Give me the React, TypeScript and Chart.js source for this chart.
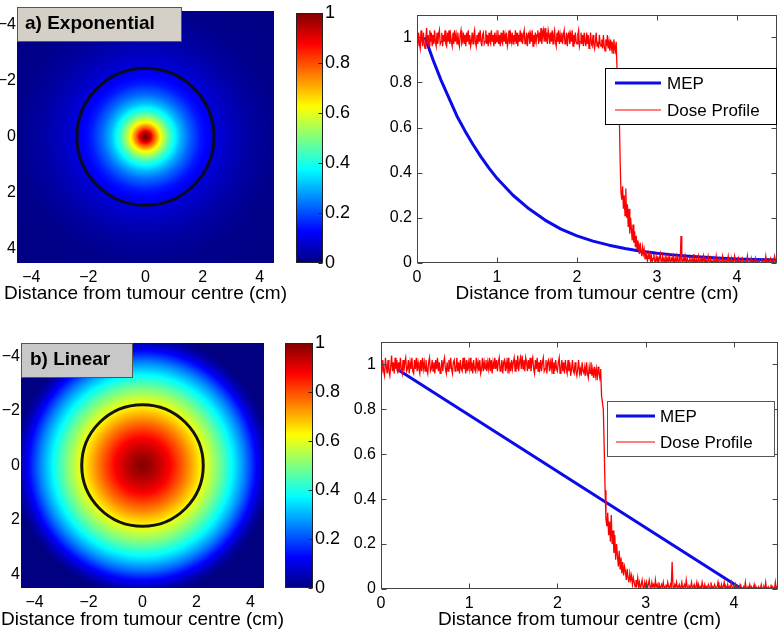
import React, { useEffect, useRef } from 'react';
import { Chart, registerables } from 'chart.js';

Chart.register(...registerables);

const FONT = '"Liberation Sans", Arial, Helvetica, sans-serif';
Chart.defaults.font.family = FONT;
Chart.defaults.color = '#000';

// ---------------- data ----------------
const xTitle = 'Distance from tumour centre (cm)';
const panelLabels = ['a) Exponential', 'b) Linear'];
const seriesLabels = ['MEP', 'Dose Profile'];

const mapTicks = [-4, -2, 0, 2, 4];
const profileXTicks = [0, 1, 2, 3, 4];
const profileYTicks = [0, 0.2, 0.4, 0.6, 0.8, 1];
const colorbarTicks = [0, 0.2, 0.4, 0.6, 0.8, 1];

// target circle radius (cm) drawn on each map
const circleRadius = [2.4, 2.25];

// radial profile of the exponential map (radius cm -> value)
const expMapRadius = [0, 0.1, 0.2, 0.3, 0.4, 0.5, 0.7, 0.9, 1.2, 1.5, 1.9, 2.4, 3.0, 3.6, 4.5, 6.5];
const expMapValues = [1, 0.98, 0.9, 0.8, 0.72, 0.64, 0.52, 0.42, 0.31, 0.23, 0.15, 0.095, 0.06, 0.035, 0.012, 0];

// radial profile of the linear map
const linMapRadius = [0, 0.5, 1.0, 1.6, 2.2, 2.8, 3.3, 3.8, 4.2, 4.5, 4.8, 6.5];
const linMapValues = [1.0, 0.95, 0.88, 0.76, 0.63, 0.5, 0.38, 0.25, 0.13, 0.05, 0, 0];

// MEP curves
const expMepDistance = [0.1, 0.2, 0.3, 0.4, 0.5, 0.6, 0.7, 0.8, 0.9, 1.0, 1.2, 1.4, 1.6, 1.8, 2.0, 2.2, 2.4, 2.6, 2.8, 3.0, 3.2, 3.4, 3.6, 3.8, 4.0, 4.2, 4.4, 4.5];
const expMepValues = [1.0, 0.9, 0.81, 0.73, 0.65, 0.585, 0.525, 0.47, 0.42, 0.375, 0.3, 0.24, 0.19, 0.15, 0.12, 0.097, 0.079, 0.064, 0.052, 0.043, 0.036, 0.03, 0.025, 0.021, 0.018, 0.016, 0.014, 0.013];

const linMepDistance = [0.18, 4.09, 4.5];
const linMepValues = [0.98, 0, 0];

// dose profile, sampled every 0.01 cm from 0 to 4.5 cm
const doseStart = 0;
const doseStep = 0.01;
const doseValues = [
  // 0.00 - 2.49 plateau
  1.00, 0.96, 1.02, 0.97, 0.95, 1.03, 0.99, 0.96, 1.02, 0.97,
  0.95, 0.99, 1.04, 0.97, 1.01, 0.96, 1.03, 0.98, 1.02, 0.96,
  1.01, 0.97, 1.03, 0.98, 0.96, 1.02, 0.97, 1.01, 1.03, 0.97,
  0.98, 1.02, 0.96, 1.01, 0.98, 1.03, 0.97, 0.96, 1.02, 0.98,
  1.03, 0.97, 1.01, 0.98, 0.96, 1.02, 0.97, 1.03, 0.98, 1.01,
  0.97, 1.02, 0.98, 0.96, 1.01, 1.03, 0.97, 0.98, 1.02, 0.97,
  1.01, 0.96, 1.02, 0.98, 1.03, 0.97, 1.01, 0.96, 0.98, 1.02,
  0.97, 1.01, 1.03, 0.98, 0.96, 1.01, 0.97, 1.02, 0.98, 1.03,
  0.98, 0.96, 1.01, 1.02, 0.97, 0.98, 1.03, 0.97, 1.01, 0.96,
  1.02, 0.98, 0.97, 1.03, 0.98, 1.01, 0.96, 1.02, 0.97, 1.01,
  0.98, 1.03, 0.97, 1.01, 0.96, 1.02, 0.98, 0.97, 1.03, 0.98,
  1.01, 0.97, 1.02, 0.96, 0.98, 1.03, 0.97, 1.01, 0.98, 1.02,
  0.97, 1.01, 0.98, 1.03, 0.97, 1.02, 0.96, 1.01, 0.98, 1.03,
  0.98, 1.02, 0.97, 1.01, 1.03, 0.97, 0.98, 1.02, 0.96, 1.01,
  1.02, 0.97, 1.01, 0.98, 1.03, 0.96, 1.01, 0.97, 1.02, 0.98,
  1.01, 1.03, 0.97, 1.02, 0.98, 1.04, 0.97, 1.01, 1.03, 0.98,
  1.04, 0.98, 1.02, 0.97, 1.03, 1.01, 0.97, 1.02, 0.98, 1.03,
  0.97, 1.01, 1.03, 0.98, 0.96, 1.02, 0.98, 1.03, 0.97, 1.01,
  0.98, 1.02, 0.97, 1.01, 1.03, 0.97, 0.98, 1.02, 0.96, 1.01,
  1.02, 0.97, 1.01, 0.98, 1.03, 0.96, 1.01, 0.97, 1.02, 0.98,
  0.97, 1.01, 1.03, 0.96, 0.98, 1.02, 0.97, 1.01, 0.96, 1.02,
  0.98, 0.96, 1.02, 0.97, 1.01, 0.95, 0.98, 1.02, 0.97, 0.96,
  1.01, 0.97, 0.95, 0.98, 1.02, 0.96, 0.98, 0.95, 1.01, 0.97,
  0.96, 0.99, 0.95, 1.01, 0.96, 0.94, 0.99, 0.96, 1.01, 0.95,
  0.98, 0.94, 0.99, 0.95, 0.98, 0.93, 0.99, 0.96, 0.94, 0.98,
  // 2.50 - 2.99 fall-off
  0.86, 0.83, 0.80, 0.63, 0.44, 0.31, 0.28, 0.34, 0.24, 0.30,
  0.21, 0.33, 0.20, 0.26, 0.16, 0.24, 0.13, 0.20, 0.15, 0.10,
  0.17, 0.09, 0.14, 0.07, 0.12, 0.06, 0.10, 0.08, 0.04, 0.09,
  0.05, 0.03, 0.07, 0.04, 0.06, 0.02, 0.05, 0.03, 0.01, 0.04,
  0.02, 0.05, 0.01, 0.03, 0.00, 0.02, 0.04, 0.01, 0.00, 0.03,
  // 3.00 - 4.50 tail
  0.01, 0.03, 0.00, 0.02, 0.04, 0.01, 0.00, 0.03, 0.01, 0.02,
  0.00, 0.04, 0.01, 0.02, 0.00, 0.03, 0.01, 0.00, 0.02, 0.01,
  0.03, 0.00, 0.01, 0.02, 0.00, 0.03, 0.01, 0.00, 0.02, 0.01,
  0.12, 0.01, 0.00, 0.02, 0.01, 0.03, 0.00, 0.01, 0.02, 0.00,
  0.01, 0.03, 0.00, 0.01, 0.02, 0.00, 0.04, 0.01, 0.00, 0.02,
  0.00, 0.01, 0.03, 0.00, 0.01, 0.02, 0.00, 0.01, 0.03, 0.00,
  0.02, 0.00, 0.01, 0.00, 0.03, 0.01, 0.00, 0.02, 0.00, 0.01,
  0.00, 0.02, 0.01, 0.00, 0.03, 0.00, 0.01, 0.00, 0.02, 0.01,
  0.00, 0.01, 0.03, 0.00, 0.01, 0.00, 0.02, 0.00, 0.01, 0.03,
  0.00, 0.01, 0.00, 0.02, 0.00, 0.01, 0.00, 0.03, 0.01, 0.00,
  0.01, 0.00, 0.02, 0.00, 0.01, 0.00, 0.00, 0.02, 0.01, 0.00,
  0.00, 0.01, 0.00, 0.03, 0.00, 0.00, 0.01, 0.00, 0.02, 0.00,
  0.01, 0.00, 0.00, 0.02, 0.00, 0.01, 0.00, 0.00, 0.01, 0.00,
  0.00, 0.02, 0.00, 0.00, 0.01, 0.00, 0.03, 0.00, 0.00, 0.01,
  0.00, 0.00, 0.02, 0.00, 0.01, 0.00, 0.00, 0.03, 0.00, 0.01,
  0.00,
];

// ---------------- helpers ----------------
function jet(v: number): [number, number, number] {
  const c = (t: number) => Math.max(0, Math.min(1, t));
  return [
    Math.round(c(1.5 - Math.abs(4 * v - 3)) * 255),
    Math.round(c(1.5 - Math.abs(4 * v - 2)) * 255),
    Math.round(c(1.5 - Math.abs(4 * v - 1)) * 255),
  ];
}

function interp(xs: number[], ys: number[], x: number) {
  if (x <= xs[0]) return ys[0];
  for (let i = 1; i < xs.length; i++) {
    if (x <= xs[i]) {
      const t = (x - xs[i - 1]) / (xs[i] - xs[i - 1]);
      return ys[i - 1] + t * (ys[i] - ys[i - 1]);
    }
  }
  return ys[ys.length - 1];
}

const fmtSigned = (v: number) => (v < 0 ? '\u2212' + Math.abs(v) : String(v));
const fmtPlain = (v: number) => String(v);
const setTicks = (vals: number[]) => (scale: any) => {
  scale.ticks = vals.map((v) => ({ value: v }));
};

// ---------------- plugins ----------------
const radialHeatPlugin = {
  id: 'radialHeat',
  beforeDatasetsDraw(chart: any, _a: any, o: any) {
    const { ctx, chartArea, scales } = chart;
    const left = Math.round(chartArea.left);
    const top = Math.round(chartArea.top);
    const w = Math.round(chartArea.right) - left;
    const h = Math.round(chartArea.bottom) - top;
    const img = ctx.createImageData(w, h);
    const xs: number[] = [];
    for (let i = 0; i < w; i++) xs.push(scales.x.getValueForPixel(left + i + 0.5));
    for (let j = 0; j < h; j++) {
      const vy = scales.y.getValueForPixel(top + j + 0.5);
      for (let i = 0; i < w; i++) {
        const r = Math.hypot(xs[i], vy);
        const [R, G, B] = jet(interp(o.radius, o.values, r));
        const k = (j * w + i) * 4;
        img.data[k] = R;
        img.data[k + 1] = G;
        img.data[k + 2] = B;
        img.data[k + 3] = 255;
      }
    }
    ctx.putImageData(img, left, top);
  },
  afterDatasetsDraw(chart: any, _a: any, o: any) {
    const { ctx, scales } = chart;
    const cx = scales.x.getPixelForValue(0);
    const cy = scales.y.getPixelForValue(0);
    const rad = Math.abs(scales.x.getPixelForValue(o.circle) - cx);
    ctx.save();
    ctx.strokeStyle = o.circleColor;
    ctx.lineWidth = 3;
    ctx.beginPath();
    ctx.arc(cx, cy, rad, 0, Math.PI * 2);
    ctx.stroke();
    // panel label box
    const b = o.box;
    ctx.fillStyle = b.fill;
    ctx.fillRect(b.x, b.y, b.w, b.h);
    ctx.strokeStyle = '#555';
    ctx.lineWidth = 1;
    ctx.strokeRect(b.x + 0.5, b.y + 0.5, b.w - 1, b.h - 1);
    ctx.fillStyle = '#000';
    ctx.font = 'bold 19px ' + FONT;
    ctx.textBaseline = 'middle';
    ctx.textAlign = 'left';
    ctx.fillText(o.label, b.tx, b.ty);
    ctx.restore();
  },
};

const colorbarPlugin = {
  id: 'colorbarFill',
  beforeDatasetsDraw(chart: any) {
    const { ctx, chartArea, scales } = chart;
    const top = Math.round(chartArea.top);
    const bottom = Math.round(chartArea.bottom);
    const left = Math.round(chartArea.left);
    const right = Math.round(chartArea.right);
    for (let y = top; y < bottom; y++) {
      const v = scales.y.getValueForPixel(y + 0.5);
      const [R, G, B] = jet(v);
      ctx.fillStyle = `rgb(${R},${G},${B})`;
      ctx.fillRect(left, y, right - left, 1);
    }
  },
};

const boxPlugin = {
  id: 'matlabBox',
  afterDatasetsDraw(chart: any, _a: any, o: any) {
    const { ctx, chartArea: ca, scales } = chart;
    const L = Math.round(ca.left) + 0.5;
    const R = Math.round(ca.right) - 0.5;
    const T = Math.round(ca.top) + 0.5;
    const B = Math.round(ca.bottom) - 0.5;
    ctx.save();
    ctx.strokeStyle = o.color;
    ctx.lineWidth = 1;
    ctx.strokeRect(L, T, R - L, B - T);
    const tl = o.tickLength;
    ctx.beginPath();
    if (o.xSides && scales.x && scales.x.ticks) {
      for (const t of scales.x.ticks) {
        const px = Math.round(scales.x.getPixelForValue(t.value)) + 0.5;
        if (o.xSides.includes('bottom')) { ctx.moveTo(px, B); ctx.lineTo(px, B - tl); }
        if (o.xSides.includes('top')) { ctx.moveTo(px, T); ctx.lineTo(px, T + tl); }
      }
    }
    if (o.ySides && scales.y && scales.y.ticks) {
      for (const t of scales.y.ticks) {
        const py = Math.round(scales.y.getPixelForValue(t.value)) + 0.5;
        if (o.ySides.includes('left')) { ctx.moveTo(L, py); ctx.lineTo(L + tl, py); }
        if (o.ySides.includes('right')) { ctx.moveTo(R, py); ctx.lineTo(R - tl, py); }
      }
    }
    ctx.stroke();
    ctx.restore();
  },
};

// x-axis title drawn without width compression
const axisTitlePlugin = {
  id: 'axisTitle',
  afterDraw(chart: any, _a: any, o: any) {
    const { ctx, chartArea: ca } = chart;
    ctx.save();
    ctx.fillStyle = '#000';
    ctx.font = `${o.size}px ${FONT}`;
    ctx.textAlign = 'center';
    ctx.textBaseline = 'middle';
    ctx.fillText(o.text, (ca.left + ca.right) / 2, o.y);
    ctx.restore();
  },
};

const insetLegendPlugin = {
  id: 'insetLegend',
  afterDraw(chart: any, _a: any, o: any) {
    const { ctx } = chart;
    ctx.save();
    ctx.fillStyle = '#fff';
    ctx.fillRect(o.x, o.y, o.w, o.h);
    ctx.strokeStyle = o.border;
    ctx.lineWidth = 1;
    ctx.strokeRect(o.x + 0.5, o.y + 0.5, o.w - 1, o.h - 1);
    chart.data.datasets.forEach((ds: any, i: number) => {
      const yy = o.rows[i];
      ctx.strokeStyle = ds.borderColor;
      ctx.lineWidth = ds.legendWidth || ds.borderWidth;
      ctx.beginPath();
      ctx.moveTo(o.lineX0, yy);
      ctx.lineTo(o.lineX1, yy);
      ctx.stroke();
      ctx.fillStyle = '#000';
      ctx.font = '17px ' + FONT;
      ctx.textBaseline = 'middle';
      ctx.textAlign = 'left';
      ctx.fillText(ds.label, o.textX, yy + 1);
    });
    ctx.restore();
  },
};

// ---------------- configs ----------------
const baseOpts = {
  responsive: false,
  maintainAspectRatio: false,
  animation: false,
  devicePixelRatio: 1,
  events: [],
};

const hiddenGrid = { display: false, drawTicks: false };

function mapConfig(p: any) {
  return {
    type: 'scatter',
    data: { datasets: [] },
    options: {
      ...baseOpts,
      layout: { padding: { left: 0, top: p.padTop, right: p.padRight, bottom: 0 } },
      plugins: {
        legend: { display: false },
        tooltip: { enabled: false },
        radialHeat: {
          radius: p.radius,
          values: p.values,
          circle: p.circle,
          circleColor: p.circleColor,
          label: p.label,
          box: p.box,
        },
        axisTitle: { text: xTitle, size: 19, y: p.titleY },
      },
      scales: {
        x: {
          type: 'linear',
          min: -4.5,
          max: 4.5,
          afterBuildTicks: setTicks(mapTicks),
          afterFit: (s: any) => { s.height = p.xHeight; },
          grid: hiddenGrid,
          border: { display: false },
          ticks: { padding: p.xTickPad, font: { size: 16 }, color: '#000', maxRotation: 0, autoSkip: false, callback: (v: any) => fmtSigned(v) },
        },
        y: {
          type: 'linear',
          reverse: true,
          min: -4.5,
          max: 4.5,
          afterBuildTicks: setTicks(mapTicks),
          afterFit: (s: any) => { s.width = p.yWidth; },
          grid: hiddenGrid,
          border: { display: false },
          ticks: { padding: 1, font: { size: 16 }, color: '#000', autoSkip: false, callback: (v: any) => fmtSigned(v) },
        },
      },
    },
    plugins: [radialHeatPlugin, axisTitlePlugin],
  };
}

function colorbarConfig(p: any) {
  return {
    type: 'scatter',
    data: { datasets: [] },
    options: {
      ...baseOpts,
      layout: { padding: { left: p.padLeft, top: p.padTop, right: 0, bottom: p.padBottom } },
      plugins: {
        legend: { display: false },
        tooltip: { enabled: false },
        matlabBox: { color: '#222', tickLength: 4, ySides: ['right'] },
      },
      scales: {
        x: { type: 'linear', display: false, min: 0, max: 1 },
        y: {
          type: 'linear',
          position: 'right',
          min: 0,
          max: 1,
          afterBuildTicks: setTicks(colorbarTicks),
          afterFit: (s: any) => { s.width = p.yWidth; },
          grid: hiddenGrid,
          border: { display: false },
          ticks: { padding: 2, font: { size: 18 }, color: '#000', autoSkip: false, callback: (v: any) => fmtPlain(v) },
        },
      },
    },
    plugins: [colorbarPlugin, boxPlugin],
  };
}

function profileConfig(p: any) {
  const mep = p.mepX.map((x: number, i: number) => ({ x, y: p.mepY[i] }));
  const dose = doseValues.map((y, i) => ({ x: +(doseStart + i * doseStep).toFixed(2), y }));
  return {
    type: 'scatter',
    data: {
      datasets: [
        { label: seriesLabels[0], data: mep, showLine: true, borderColor: 'rgb(10,10,235)', borderWidth: 3, pointRadius: 0, order: 2, borderJoinStyle: 'round' },
        { label: seriesLabels[1], data: dose, showLine: true, borderColor: 'rgb(255,0,0)', borderWidth: 1.3, legendWidth: 1.2, pointRadius: 0, order: 1 },
      ],
    },
    options: {
      ...baseOpts,
      layout: { padding: { left: 0, top: p.padTop, right: p.padRight, bottom: 0 } },
      plugins: {
        legend: { display: false },
        tooltip: { enabled: false },
        matlabBox: { color: '#444', tickLength: 5, xSides: ['bottom', 'top'], ySides: ['left', 'right'] },
        insetLegend: p.legend,
        axisTitle: { text: xTitle, size: 19, y: p.titleY },
      },
      scales: {
        x: {
          type: 'linear',
          min: 0,
          max: 4.5,
          afterBuildTicks: setTicks(profileXTicks),
          afterFit: (s: any) => { s.height = p.xHeight; },
          grid: hiddenGrid,
          border: { display: false },
          ticks: { padding: p.xTickPad, font: { size: 16 }, color: '#000', maxRotation: 0, autoSkip: false, callback: (v: any) => fmtPlain(v) },
        },
        y: {
          type: 'linear',
          min: 0,
          max: 1.1,
          afterBuildTicks: setTicks(profileYTicks),
          afterFit: (s: any) => { s.width = p.yWidth; },
          grid: hiddenGrid,
          border: { display: false },
          ticks: { padding: 5, font: { size: 16 }, color: '#000', autoSkip: false, callback: (v: any) => fmtPlain(v) },
        },
      },
    },
    plugins: [boxPlugin, insetLegendPlugin, axisTitlePlugin],
  };
}

// ---------------- components ----------------
function ChartCanvas({ x, y, w, h, config }: { x: number; y: number; w: number; h: number; config: () => any }) {
  const ref = useRef<HTMLCanvasElement>(null);
  useEffect(() => {
    const chart = new Chart(ref.current as HTMLCanvasElement, config());
    return () => chart.destroy();
  }, []);
  return (
    <canvas
      ref={ref}
      width={w}
      height={h}
      style={{ position: 'absolute', left: x, top: y, width: w, height: h, display: 'block' }}
    />
  );
}

export default function App() {
  return (
    <div style={{ position: 'fixed', left: 0, top: 0, width: 780, height: 632, background: '#fff', overflow: 'hidden' }}>
      {/* top-left map */}
      <ChartCanvas
        x={0} y={0} w={290} h={310}
        config={() =>
          mapConfig({
            padTop: 7, padRight: 16, yWidth: 17, xHeight: 47, xTickPad: 5, titleY: 294,
            radius: expMapRadius, values: expMapValues, circle: circleRadius[0], circleColor: '#0a0a22',
            label: panelLabels[0],
            box: { x: 17, y: 7, w: 165, h: 35, fill: '#d4d0c8', tx: 25, ty: 24 },
          })
        }
      />
      {/* top colorbar */}
      <ChartCanvas x={290} y={0} w={80} h={310} config={() => colorbarConfig({ padLeft: 6, padTop: 7, padBottom: 47, yWidth: 47 })} />
      {/* top-right profile */}
      <ChartCanvas
        x={330} y={0} w={450} h={310}
        config={() =>
          profileConfig({
            padTop: 7, padRight: 3, yWidth: 87, xHeight: 47, xTickPad: 5, titleY: 294,
            mepX: expMepDistance, mepY: expMepValues,
            legend: { x: 275, y: 68, w: 172, h: 57, border: '#000', lineX0: 285, lineX1: 331, textX: 337, rows: [83, 110] },
          })
        }
      />
      {/* bottom-left map */}
      <ChartCanvas
        x={0} y={310} w={290} h={322}
        config={() =>
          mapConfig({
            padTop: 33, padRight: 26, yWidth: 21, xHeight: 44, xTickPad: 5, titleY: 310,
            radius: linMapRadius, values: linMapValues, circle: circleRadius[1], circleColor: '#101510',
            label: panelLabels[1],
            box: { x: 21, y: 33, w: 112, h: 35, fill: '#c8c8c8', tx: 30, ty: 50 },
          })
        }
      />
      {/* bottom colorbar */}
      <ChartCanvas x={280} y={310} w={80} h={322} config={() => colorbarConfig({ padLeft: 5, padTop: 33, padBottom: 44, yWidth: 47 })} />
      {/* bottom-right profile */}
      <ChartCanvas
        x={330} y={310} w={450} h={322}
        config={() =>
          profileConfig({
            padTop: 32, padRight: 2, yWidth: 51, xHeight: 43, xTickPad: 5, titleY: 310,
            mepX: linMepDistance, mepY: linMepValues,
            legend: { x: 277, y: 91, w: 168, h: 56, border: '#555', lineX0: 286, lineX1: 325, textX: 330, rows: [106, 132] },
          })
        }
      />
    </div>
  );
}
